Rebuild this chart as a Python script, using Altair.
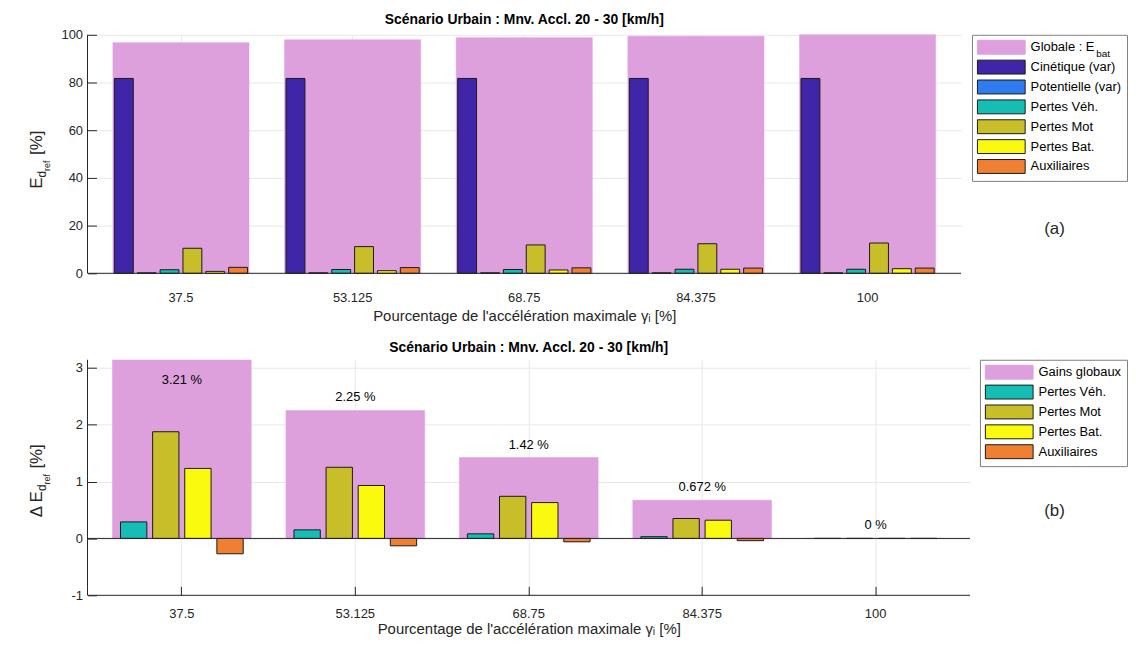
import altair as alt
import pandas as pd

FONT = "Liberation Sans"
TXT = "#262626"

# ---------------- data ----------------
gamma = ["37.5", "53.125", "68.75", "84.375", "100"]

series_a = ["Globale : E", "Cinétique (var)", "Potentielle (var)", "Pertes Véh.",
            "Pertes Mot", "Pertes Bat.", "Auxiliaires"]
globale = [96.7, 97.9, 98.8, 99.4, 100.0]
cinetique = [81.7, 81.7, 81.7, 81.7, 81.7]
potentielle = [0.2, 0.2, 0.2, 0.2, 0.2]
pertes_veh_a = [1.5, 1.6, 1.6, 1.7, 1.7]
pertes_mot_a = [10.5, 11.2, 11.9, 12.4, 12.7]
pertes_bat_a = [0.8, 1.1, 1.4, 1.7, 1.95]
auxiliaires_a = [2.5, 2.4, 2.3, 2.2, 2.2]

series_b = ["Gains globaux", "Pertes Véh.", "Pertes Mot", "Pertes Bat.", "Auxiliaires"]
gains = [3.21, 2.25, 1.42, 0.672, 0.0]
pertes_veh_b = [0.29, 0.15, 0.08, 0.03, 0.0]
pertes_mot_b = [1.875, 1.25, 0.74, 0.35, 0.0]
pertes_bat_b = [1.23, 0.93, 0.63, 0.32, 0.0]
auxiliaires_b = [-0.27, -0.13, -0.06, -0.04, 0.0]

fill_a = ["#DDA0DD", "#3F26A8", "#2F7CF0", "#16BDB4", "#C8BE2A", "#FAFA0F", "#EE7F33"]
stroke_a = ["#DDA0DD", "#1a1a1a", "#1a1a1a", "#1a1a1a", "#1a1a1a", "#1a1a1a", "#1a1a1a"]
fill_b = ["#DDA0DD", "#16BDB4", "#C8BE2A", "#FAFA0F", "#EE7F33"]
stroke_b = ["#DDA0DD", "#1a1a1a", "#1a1a1a", "#1a1a1a", "#1a1a1a"]

TITLE = "Scénario Urbain : Mnv. Accl. 20 - 30 [km/h]"
XTITLE = "Pourcentage de l'accélération maximale γᵢ [%]"

# long tables
rows_a = []
for name, vals in zip(series_a[1:], [cinetique, potentielle, pertes_veh_a, pertes_mot_a,
                                      pertes_bat_a, auxiliaires_a]):
    for g, v in zip(gamma, vals):
        rows_a.append({"gamma": g, "serie_a": name, "value": v})
df_a = pd.DataFrame(rows_a)
df_ga = pd.DataFrame({"gamma": gamma, "serie_a": series_a[0], "value": globale})

rows_b = []
for name, vals in zip(series_b[1:], [pertes_veh_b, pertes_mot_b, pertes_bat_b, auxiliaires_b]):
    for g, v in zip(gamma, vals):
        rows_b.append({"gamma": g, "serie_b": name, "value": v})
df_b = pd.DataFrame(rows_b)
df_gb = pd.DataFrame({"gamma": gamma, "serie_b": series_b[0], "value": gains})

# wide rectangle legend symbol (48 x 14 px with symbolSize 196)
SYM = "M-3.43,-1H3.43V1H-3.43Z"


def legend(offset):
    return alt.Legend(title=None, orient="right", offset=offset, padding=5,
                      strokeColor="#808080", symbolType=SYM,
                      symbolSize=196, symbolStrokeWidth=1, symbolOffset=17,
                      labelFont=FONT, labelFontSize=13, labelColor="black",
                      labelOffset=22, rowPadding=1, cornerRadius=0, labelLimit=200)


def note(txt, x, y, size, angle=0, weight="normal", align="left", baseline="alphabetic",
         color=TXT):
    return alt.Chart(alt.Data(values=[{}])).mark_text(
        text=txt, font=FONT, fontSize=size, angle=angle, align=align,
        baseline=baseline, color=color, fontWeight=weight
    ).encode(x=alt.value(x), y=alt.value(y))


def frame(W, H):
    left = alt.Chart(alt.Data(values=[{}])).mark_rule(color=TXT, strokeWidth=1).encode(
        x=alt.value(0), y=alt.value(0), y2=alt.value(H))
    bottom = alt.Chart(alt.Data(values=[{}])).mark_rule(color=TXT, strokeWidth=1).encode(
        x=alt.value(0), x2=alt.value(W), y=alt.value(H))
    return [left, bottom]


def ytitle(y0, prefix=None):
    parts = []
    if prefix:
        parts.append(note(prefix, -46, y0 + 15, 17, angle=270))
    parts += [
        note("E", -46, y0, 17, angle=270),
        note("d", -42, y0 - 11.5, 12, angle=270),
        note("ref", -38, y0 - 18, 9, angle=270),
        note("[%]", -46, y0 - 34, 17, angle=270),
    ]
    return parts


# ---------------- top panel ----------------
W1, H1 = 879, 240
xa = alt.X("gamma:N", sort=gamma,
           scale=alt.Scale(paddingInner=0.207, paddingOuter=0.148),
           axis=alt.Axis(title=XTITLE, labelAngle=0, offset=-9, tickSize=9, domain=False,
                         grid=True, labelPadding=18, titlePadding=4))
ya = alt.Y("value:Q", scale=alt.Scale(domain=[0, 100], nice=False),
           axis=alt.Axis(title=None, values=[0, 20, 40, 60, 80, 100], offset=-9,
                         tickSize=9, domain=False, grid=True, labelPadding=5,
                         labelExpr="'' + datum.value"))
fa = alt.Fill("serie_a:N", scale=alt.Scale(domain=series_a, range=fill_a), legend=legend(11))
sa = alt.Stroke("serie_a:N", scale=alt.Scale(domain=series_a, range=stroke_a), legend=legend(11))

glob_a = alt.Chart(df_ga).mark_bar(strokeWidth=0.5).encode(x=xa, y=ya, fill=fa, stroke=sa)
bars_a = alt.Chart(df_a).mark_bar(strokeWidth=1).encode(
    x=xa, y=ya, fill=fa, stroke=sa,
    xOffset=alt.XOffset("serie_a:N", sort=series_a[1:],
                        scale=alt.Scale(paddingInner=0.174, paddingOuter=0.065)))

top = alt.layer(
    glob_a, bars_a, *frame(W1, H1), *ytitle(H1 / 2 + 35),
    note("bat", W1 + 136, 22, 10, color="black"),
    note("(a)", W1 + 94, 200, 17, align="center"),
).properties(width=W1, height=H1,
             title=alt.Title(TITLE, font=FONT, fontSize=14, fontWeight="bold",
                             color="black", offset=2, anchor="middle"))

# ---------------- bottom panel ----------------
W2, H2 = 888, 237
xb = alt.X("gamma:N", sort=gamma,
           scale=alt.Scale(paddingInner=0.2, paddingOuter=0.144),
           axis=alt.Axis(title=XTITLE, labelAngle=0, offset=-9, tickSize=9, domain=False,
                         grid=True, labelPadding=12, titlePadding=1))
yb = alt.Y("value:Q", scale=alt.Scale(domain=[-1, 3.14], nice=False),
           axis=alt.Axis(title=None, values=[-1, 0, 1, 2, 3], offset=-9,
                         tickSize=9, domain=False, grid=True, labelPadding=5,
                         labelExpr="'' + datum.value"))
fb = alt.Fill("serie_b:N", scale=alt.Scale(domain=series_b, range=fill_b), legend=legend(10))
sb = alt.Stroke("serie_b:N", scale=alt.Scale(domain=series_b, range=stroke_b), legend=legend(10))

glob_b = alt.Chart(df_gb).mark_bar(strokeWidth=0.5, clip=True).encode(x=xb, y=yb, fill=fb, stroke=sb)
bars_b = alt.Chart(df_b).mark_bar(strokeWidth=1).encode(
    x=xb, y=yb, fill=fb, stroke=sb,
    xOffset=alt.XOffset("serie_b:N", sort=series_b[1:],
                        scale=alt.Scale(paddingInner=0.18, paddingOuter=0.25)))
zero = alt.Chart(alt.Data(values=[{"v": 0}])).mark_rule(color=TXT, strokeWidth=1).encode(
    y=alt.datum(0))
labels_b = alt.Chart(df_gb).transform_calculate(
    label_y="min(datum.value, 2.55)",
    label="format(datum.value, '.3~g') + ' %'",
).mark_text(font=FONT, fontSize=13, color="black", baseline="bottom", dy=-6).encode(
    x=alt.X("gamma:N", sort=gamma), y=alt.Y("label_y:Q"), text="label:N")

bottom = alt.layer(
    glob_b, bars_b, zero, labels_b, *frame(W2, H2), *ytitle(H2 / 2 + 25, prefix="Δ"),
    note("(b)", W2 + 85, 157, 17, align="center"),
).properties(width=W2, height=H2,
             title=alt.Title(TITLE, font=FONT, fontSize=14, fontWeight="bold",
                             color="black", offset=4, anchor="middle"))

chart = alt.vconcat(top, bottom, spacing=18).resolve_scale(
    x="independent", y="independent", fill="independent", stroke="independent",
    xOffset="independent"
).properties(
    padding={"left": 20, "top": 3, "right": 0, "bottom": 0}
).configure_view(stroke=None).configure_axis(
    labelFont=FONT, titleFont=FONT, labelFontSize=13, titleFontSize=15,
    labelColor=TXT, titleColor=TXT, tickColor=TXT, gridColor="#e8e8e8",
    titleFontWeight="normal"
)

chart.save("out.html", embed_options={"renderer": "svg", "actions": False})
